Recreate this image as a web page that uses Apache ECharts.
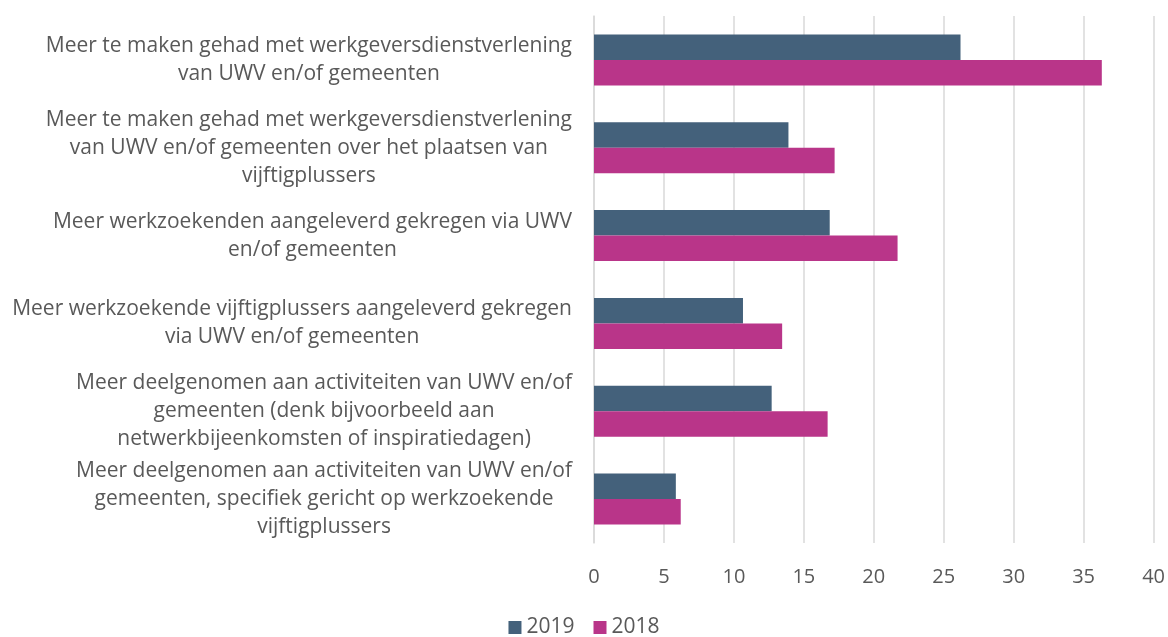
<!DOCTYPE html>
<html>
<head>
<meta charset="utf-8">
<script src="https://cdn.jsdelivr.net/npm/echarts@6/dist/echarts.min.js"></script>
<style>
  html, body { margin: 0; padding: 0; background: #fff; }
  #chart { width: 1168px; height: 637px; }
</style>
</head>
<body>
<div id="chart"></div>
<script>
// categorieen, van boven naar beneden
const categories = [
  'Meer te maken gehad met werkgeversdienstverlening\nvan UWV en/of gemeenten',
  'Meer te maken gehad met werkgeversdienstverlening\nvan UWV en/of gemeenten over het plaatsen van\nvijftigplussers',
  'Meer werkzoekenden aangeleverd gekregen via UWV\nen/of gemeenten',
  'Meer werkzoekende vijftigplussers aangeleverd gekregen\nvia UWV en/of gemeenten',
  'Meer deelgenomen aan activiteiten van UWV en/of\ngemeenten (denk bijvoorbeeld aan\nnetwerkbijeenkomsten of inspiratiedagen)',
  'Meer deelgenomen aan activiteiten van UWV en/of\ngemeenten, specifiek gericht op werkzoekende\nvijftigplussers'
];
const values2019 = [26.2, 13.9, 16.85, 10.65, 12.7, 5.85];
const values2018 = [36.3, 17.2, 21.7, 13.45, 16.7, 6.2];
const xTicks = { min: 0, max: 40, interval: 5 };

const font = '"Open Sans", sans-serif';
const textColor = '#595959';
const gridColor = '#d9d9d9';

const chart = echarts.init(document.getElementById('chart'));

const option = {
  backgroundColor: '#ffffff',
  animation: false,
  textStyle: { fontFamily: font },
  legend: {
    data: ['2019', '2018'],
    bottom: -6,
    left: 'center',
    icon: 'rect',
    itemWidth: 13,
    itemHeight: 13,
    itemGap: 19,
    textStyle: { color: textColor, fontSize: 21, fontFamily: font }
  },
  grid: { left: 594, right: 13, top: 16, bottom: 94, containLabel: false },
  xAxis: {
    type: 'value',
    min: xTicks.min,
    max: xTicks.max,
    interval: xTicks.interval,
    axisLine: { show: false },
    axisTick: { show: false },
    splitLine: { lineStyle: { color: gridColor, width: 1.5 } },
    axisLabel: { color: textColor, fontSize: 20, fontFamily: font, margin: 24 }
  },
  yAxis: {
    type: 'category',
    inverse: true,
    data: categories,
    axisLine: { lineStyle: { color: gridColor, width: 1.5 } },
    axisTick: { show: false },
    axisLabel: {
      margin: 22,
      color: textColor,
      fontSize: 21,
      fontFamily: font,
      lineHeight: 28,
      formatter: function (v) {
        return v.split('\n').map(function (l) { return '{c|' + l + '}'; }).join('\n');
      },
      rich: {
        c: { align: 'center', color: textColor, fontSize: 21, fontFamily: font, lineHeight: 28 }
      }
    }
  },
  series: [
    {
      name: '2019',
      type: 'bar',
      data: values2019,
      barGap: '0%',
      barCategoryGap: '42%',
      itemStyle: { color: '#44617b' }
    },
    {
      name: '2018',
      type: 'bar',
      data: values2018,
      barGap: '0%',
      barCategoryGap: '42%',
      itemStyle: { color: '#b93589' }
    }
  ]
};

chart.setOption(option);
</script>
</body>
</html>
